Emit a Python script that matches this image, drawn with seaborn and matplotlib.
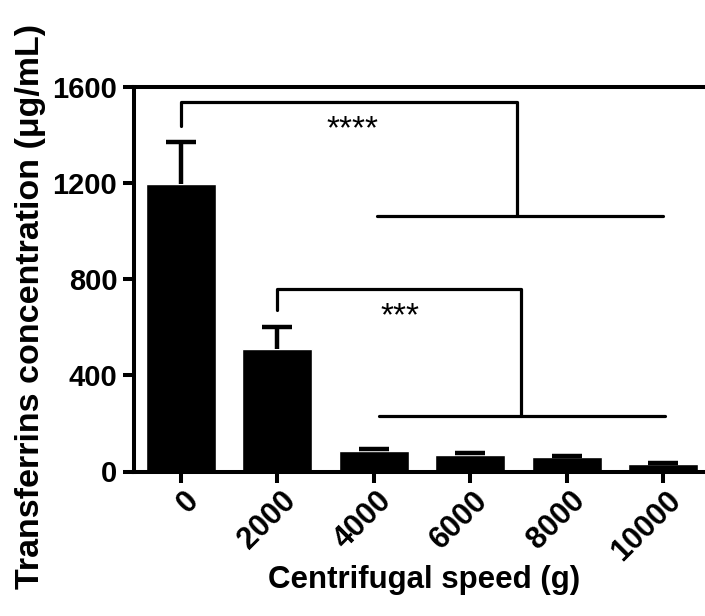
import numpy as np
import matplotlib
matplotlib.use("Agg")
import matplotlib.pyplot as plt
import matplotlib.transforms as mtransforms
import seaborn as sns

# ---- data ----
speeds = ["0", "2000", "4000", "6000", "8000", "10000"]
means = [1195, 508, 86, 68, 59, 33]
errors = [177, 93, 9, 7, 6, 4]
y_ticks = [0, 400, 800, 1200, 1600]
sig1_label = "****"
sig2_label = "***"

sns.set_theme(style="ticks")
plt.rcParams['font.family'] = ['Liberation Sans', 'DejaVu Sans']
plt.rcParams.update({"text.color": "black", "axes.labelcolor": "black",
                     "xtick.color": "black", "ytick.color": "black",
                     "axes.edgecolor": "black"})

W, H = 705, 616
fig = plt.figure(figsize=(W / 100, H / 100), dpi=100)
ax = fig.add_axes([134 / W, 1 - 471.5 / H, (W - 134) / W, (471.5 - 87) / H])

sns.barplot(x=speeds, y=means, order=speeds, color="black", saturation=1,
            width=0.726, errorbar=None, ax=ax)
xpos = np.arange(len(speeds))
eb = ax.errorbar(xpos, means, yerr=[np.zeros(len(means)), errors], fmt="none",
                 ecolor="black", elinewidth=3.2, capsize=11, capthick=3.2, zorder=3)
# hide the lower caps (sit on the bar tops)
eb[1][0].set_visible(False)

# significance brackets
lw = 2.3
ax.plot([0, 0, 3.49, 3.49], [1438, 1538, 1538, 1063], color="black", lw=lw)
ax.plot([2.03, 5.0], [1063, 1063], color="black", lw=lw)
ax.plot([1, 1, 3.53, 3.53], [672, 759, 759, 231], color="black", lw=lw)
ax.plot([2.05, 5.02], [231, 231], color="black", lw=lw)
ax.text(1.78, 1386, sig1_label, ha="center", va="baseline", fontsize=24, color="black")
ax.text(2.27, 610, sig2_label, ha="center", va="baseline", fontsize=24, color="black")

ax.set_xlim(-0.4876, 5.436)
ax.set_ylim(0, 1600)
ax.set_yticks(y_ticks)
ax.set_yticklabels([str(v) for v in y_ticks])

for side in ["left", "top", "bottom"]:
    ax.spines[side].set_linewidth(2.9)
    ax.spines[side].set_color("black")
    ax.spines[side].set_clip_on(False)
ax.spines["right"].set_visible(False)

ax.tick_params(axis="both", length=8, width=2.9, color="black", pad=4,
               labelcolor="black")
ax.tick_params(axis="y", labelsize=21)
ax.tick_params(axis="x", labelsize=22, pad=2)
offset = mtransforms.ScaledTranslation(3 / 100, 0, fig.dpi_scale_trans)
for lab in ax.get_yticklabels():
    lab.set_fontweight("bold")
for lab in ax.get_xticklabels():
    lab.set_fontweight("bold")
    lab.set_rotation(45)
    lab.set_ha("right")
    lab.set_rotation_mode("anchor")
    lab.set_transform(lab.get_transform() + offset)

ax.set_xlabel("Centrifugal speed (g)", fontsize=22.5, fontweight="bold", color="black")
ax.set_ylabel("Transferrins concentration (μg/mL)", fontsize=24.5, fontweight="bold",
              color="black")
ax.xaxis.set_label_coords(0.508, -0.282)
ax.xaxis.label.set_va("center")
ax.yaxis.set_label_coords(-0.182, 0.43)
ax.yaxis.label.set_va("center")

ax.set_facecolor("white")
fig.patch.set_facecolor("white")
fig.savefig("out.png", dpi=100)
